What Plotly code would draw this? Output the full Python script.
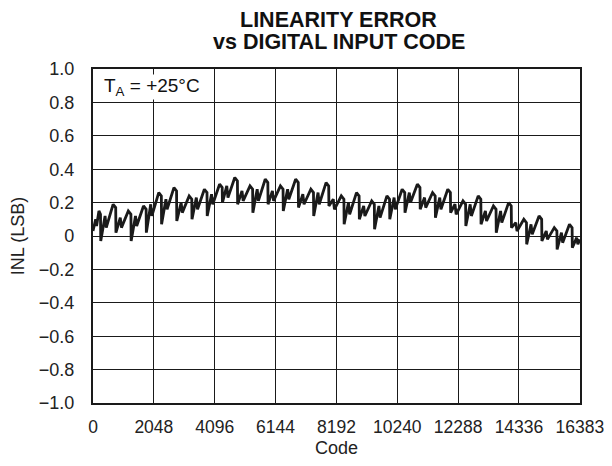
import plotly.graph_objects as go

# INL trace (code, LSB)
codes = [0, 90, 120, 200, 252,
         260, 406, 446, 676, 764,
         772, 918, 958, 1188, 1276,
         1284, 1430, 1470, 1700, 1788,
         1796, 1942, 1982, 2212, 2300,
         2308, 2454, 2494, 2724, 2812,
         2820, 2966, 3006, 3236, 3324,
         3332, 3478, 3518, 3748, 3836,
         3844, 3990, 4030, 4260, 4348,
         4356, 4502, 4542, 4772, 4860,
         4868, 5014, 5054, 5284, 5372,
         5380, 5526, 5566, 5796, 5884,
         5892, 6038, 6078, 6308, 6396,
         6404, 6550, 6590, 6820, 6908,
         6916, 7062, 7102, 7332, 7420,
         7428, 7574, 7614, 7844, 7932,
         7940, 8086, 8126, 8356, 8444,
         8452, 8598, 8638, 8868, 8956,
         8964, 9110, 9150, 9380, 9468,
         9476, 9622, 9662, 9892, 9980,
         9988, 10134, 10174, 10404, 10492,
         10500, 10646, 10686, 10916, 11004,
         11012, 11158, 11198, 11428, 11516,
         11524, 11670, 11710, 11940, 12028,
         12036, 12182, 12222, 12452, 12540,
         12548, 12694, 12734, 12964, 13052,
         13060, 13206, 13246, 13476, 13564,
         13572, 13718, 13758, 13988, 14076,
         14084, 14230, 14270, 14500, 14588,
         14596, 14742, 14782, 15012, 15100,
         15108, 15254, 15294, 15524, 15612,
         15620, 15766, 15806, 16036, 16124,
         16132, 16278, 16318, 16383]

inl = [0.03, 0.10, 0.06, 0.15, 0.13,
       -0.03, 0.12, 0.05, 0.19, 0.17,
       0.02, 0.11, 0.05, 0.15, 0.13,
       -0.03, 0.12, 0.06, 0.18, 0.16,
       0.02, 0.19, 0.12, 0.26, 0.24,
       0.07, 0.22, 0.16, 0.29, 0.27,
       0.09, 0.20, 0.14, 0.24, 0.22,
       0.10, 0.23, 0.16, 0.28, 0.26,
       0.12, 0.25, 0.19, 0.31, 0.29,
       0.20, 0.30, 0.23, 0.35, 0.33,
       0.19, 0.27, 0.21, 0.30, 0.28,
       0.14, 0.28, 0.21, 0.34, 0.32,
       0.19, 0.27, 0.21, 0.30, 0.28,
       0.15, 0.28, 0.22, 0.34, 0.32,
       0.17, 0.25, 0.19, 0.28, 0.26,
       0.12, 0.26, 0.19, 0.32, 0.30,
       0.18, 0.22, 0.16, 0.24, 0.22,
       0.07, 0.20, 0.13, 0.26, 0.24,
       0.10, 0.18, 0.12, 0.21, 0.19,
       0.04, 0.18, 0.11, 0.24, 0.22,
       0.10, 0.23, 0.16, 0.28, 0.26,
       0.14, 0.26, 0.20, 0.31, 0.29,
       0.16, 0.23, 0.17, 0.26, 0.24,
       0.11, 0.23, 0.16, 0.28, 0.26,
       0.14, 0.19, 0.13, 0.21, 0.19,
       0.06, 0.19, 0.12, 0.24, 0.22,
       0.07, 0.15, 0.09, 0.18, 0.16,
       0.02, 0.15, 0.08, 0.20, 0.18,
       0.05, 0.08, 0.03, 0.10, 0.08,
       -0.05, 0.07, 0.01, 0.12, 0.10,
       -0.03, 0.03, -0.02, 0.05, 0.03,
       -0.08, 0.02, -0.04, 0.07, 0.05,
       -0.07, -0.01, -0.05, -0.02]

x_tickvals = [0, 2048, 4096, 6144, 8192, 10240, 12288, 14336, 16383]
x_ticktext = ["0", "2048", "4096", "6144", "8192", "10240", "12288", "14336", "16383"]
y_tickvals = [1.0, 0.8, 0.6, 0.4, 0.2, 0, -0.2, -0.4, -0.6, -0.8, -1.0]
y_ticktext = ["1.0", "0.8", "0.6", "0.4", "0.2", "0", "\u22120.2", "\u22120.4",
              "\u22120.6", "\u22120.8", "\u22121.0"]
title_lines = ["LINEARITY ERROR", "vs DIGITAL INPUT CODE"]

FONT = "Liberation Sans, Arial, Helvetica, sans-serif"
INK = "#1a1a1a"

fig = go.Figure()
fig.add_trace(go.Scatter(x=codes, y=inl, mode="lines",
                         line=dict(color=INK, width=2.8),
                         showlegend=False, hoverinfo="skip"))

# page has an 8px body margin, so the figure is sized to fit the window
fig.update_layout(
    width=604, height=450,
    margin=dict(l=85, r=32, t=61, b=55, autoexpand=False),
    paper_bgcolor="white", plot_bgcolor="white",
    font=dict(family=FONT, size=18, color="#222"),
    showlegend=False,
)

fig.update_xaxes(range=[0, 16390], tickvals=x_tickvals, ticktext=x_ticktext,
                 showgrid=True, gridcolor=INK, gridwidth=1,
                 showline=True, linecolor=INK, linewidth=2.2, mirror=True,
                 ticks="", zeroline=False, ticklabelstandoff=7, automargin=False,
                 ticklabeloverflow="allow",
                 tickfont=dict(family=FONT, size=17.5, color="#222"),
                 title=dict(text="Code", standoff=10,
                            font=dict(family=FONT, size=18, color="#222")))
fig.update_yaxes(range=[-1.0, 1.0], tickvals=y_tickvals, ticktext=y_ticktext,
                 showgrid=True, gridcolor=INK, gridwidth=1,
                 showline=True, linecolor=INK, linewidth=2.2, mirror=True,
                 ticks="", zeroline=False, ticklabelstandoff=13, automargin=False,
                 tickfont=dict(family=FONT, size=18, color="#222"),
                 title=dict(text="INL (LSB)", standoff=12,
                            font=dict(family=FONT, size=18, color="#222")))

for line, ypos in zip(title_lines, [1.146, 1.080]):
    fig.add_annotation(x=0.505, y=ypos, xref="paper", yref="paper",
                       xanchor="center", yanchor="middle", showarrow=False,
                       text="<b>" + line + "</b>", borderpad=0,
                       font=dict(family=FONT, size=21.5, color="#111"))

fig.add_annotation(x=330, y=0.895, xref="x", yref="y", xanchor="left", yanchor="middle",
                   text="T<sub>A</sub> = +25°C", showarrow=False,
                   bgcolor="white", borderpad=0,
                   font=dict(family=FONT, size=19, color="#111"))

fig.write_html("out.html")
